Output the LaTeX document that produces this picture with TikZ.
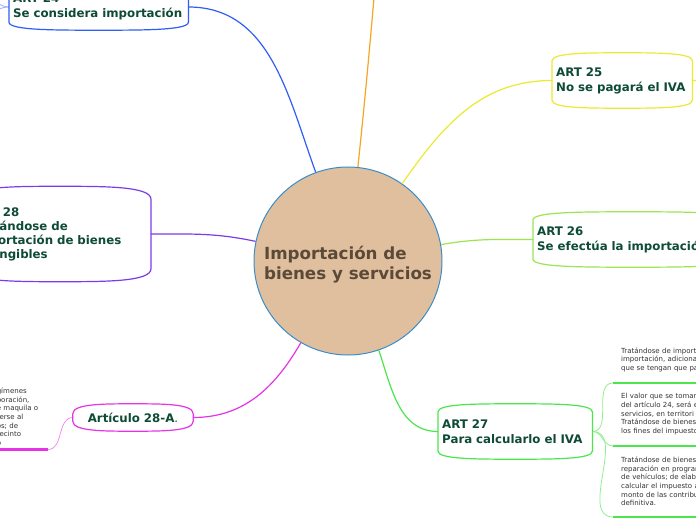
\documentclass[tikz,border=0pt]{standalone}
\usepackage{fontspec}
\setmainfont{DejaVu Sans}
\usetikzlibrary{calc}
\definecolor{cInk}{HTML}{0E4B35}
\definecolor{cCore}{HTML}{E0BF9F}
\definecolor{cCoreLine}{HTML}{3C8DC5}
\definecolor{cCoreInk}{HTML}{5B4A38}
\definecolor{cLeaf}{HTML}{333333}
\definecolor{cBlue}{HTML}{2F5EF5}
\definecolor{cBlueSoft}{HTML}{9DB4FF}
\definecolor{cOrange}{HTML}{F5A623}
\definecolor{cYellow}{HTML}{EAEA32}
\definecolor{cLime}{HTML}{9BE650}
\definecolor{cGreen}{HTML}{4CE64C}
\definecolor{cGreenSoft}{HTML}{90F090}
\definecolor{cPurple}{HTML}{7B3BEA}
\definecolor{cMagenta}{HTML}{E633E6}
\definecolor{cMagentaSoft}{HTML}{F290F2}
% outline of a topic box: straight sides, bowed top and bottom
\newcommand{\bubble}[3]{%
	\draw[#2, line width=1.2pt] ($(#1.south west)+(0,#3)$) -- ($(#1.north west)+(0,-#3)$)
	.. controls (#1.north west) and ($(#1.north west)!.5!(#1.north)$) .. (#1.north)
	.. controls ($(#1.north)!.5!(#1.north east)$) and (#1.north east) .. ($(#1.north east)+(0,-#3)$)
	-- ($(#1.south east)+(0,#3)$)
	.. controls (#1.south east) and ($(#1.south east)!.5!(#1.south)$) .. (#1.south)
	.. controls ($(#1.south)!.5!(#1.south west)$) and (#1.south west) .. cycle;}
\tikzset{
	core/.style={circle, fill=cCore, draw=cCoreLine, line width=1pt, minimum size=188pt, inner sep=0pt,
		align=left, text=cCoreInk, font=\fontsize{16.7}{20}\selectfont\bfseries},
	topic/.style={text=cInk, font=\fontsize{11.8}{15}\selectfont\bfseries, align=left, text width=#1,
		inner xsep=4pt, inner ysep=0pt, minimum height=55pt},
	leaf/.style={text=cLeaf, font=\fontsize{7}{8.6}\selectfont, align=left, text width=#1,
		inner xsep=8pt, inner ysep=11pt},
	link/.style={draw=#1, line width=1.2pt},
	twig/.style={draw=#1, line width=0.8pt},
	uline/.style={draw=#1, line width=2.6pt},
}

\begin{document}
\begin{tikzpicture}[x=1pt,y=1pt]
	\useasboundingbox (0,0) rectangle (696,520);
	\clip (0,0) rectangle (696,520);
	\fill[white] (0,0) rectangle (696,520);
	\node[core] (c) at (348,259) {\rule{0pt}{20pt}Importación de\\bienes y servicios};
	\node[topic=171pt, anchor=west, minimum height=46pt] (a24) at (9,513) {ART 24\\Se considera importación};
	\node[topic=132pt, anchor=west] (a25) at (552,439.5) {ART 25\\No se pagará el IVA};
	\node[topic=192pt, anchor=west] (a26) at (533,280.5) {ART 26\\Se efectúa la importación};
	\node[topic=146pt, anchor=west] (a27) at (438,88.5) {ART 27\\Para calcularlo el IVA};
	\node[topic=173.5pt, anchor=east, minimum height=95pt, font=\fontsize{11.8}{14}\selectfont\bfseries] (a28) at (151,286) {ART 28\\Tratándose de\\importación de bienes\\intangibles};
	\node[topic=112pt, align=center, minimum height=27pt] (a28a) at (133,102.5) {Artículo 28-A{\mdseries.}};
	% hojas del ART 27 y del 28-A
	\node[leaf=130pt, anchor=south west] (k1) at (613,137) {Tratándose de import\\importación, adiciona\\que se tengan que pa};
	\node[leaf=130pt, anchor=south west] (k2) at (613,74) {El valor que se tomar\\del artículo 24, será e\\servicios, en territori\\Tratándose de bienes\\los fines del impuesto};
	\node[leaf=130pt, anchor=south west] (k3) at (613,3) {Tratándose de bienes\\reparación en progran\\de vehículos; de elab\\calcular el impuesto a\\monto de las contribu\\definitiva.};
	\node[leaf=43pt, anchor=south east, inner ysep=4pt] (k4) at (48,70.5) {gímenes\\poración,\\e maquila o\\terse al\\os; de\\recinto\\o};
	\coordinate (o1) at (376,545);
	\coordinate (y1) at (730,441);
	\coordinate (b1) at (-30,540);
	\coordinate (b2) at (-30,498);
	\draw[link=cOrange] (c) to[out=84,in=265] (o1);
	\draw[link=cBlue] (c) to[out=110,in=0] (a24.east);
	\draw[link=cYellow] (c) to[out=55,in=180] (a25.west);
	\draw[link=cLime] (c) to[out=10,in=180] (a26.west);
	\draw[link=cGreen] (c) to[out=-71,in=180] (a27.west);
	\draw[link=cMagenta] (c) to[out=240,in=0] (a28a.east);
	\draw[link=cPurple] (c) to[out=168,in=0] (a28.east);
	\draw[link=cYellow] (a25.east) to[out=0,in=180] (y1);
	\foreach \t in {b1,b2} \draw[twig=cBlueSoft] (a24.west) to[out=180,in=0] (\t);
	\foreach \k in {k1,k2,k3} {
		\draw[twig=cGreenSoft] (a27.east) to[out=0,in=180] (\k.south west);
		\draw[uline=cGreen] (\k.south west) -- (\k.south east);
	}
	\draw[twig=cMagentaSoft] (a28a.west) to[out=180,in=0] (k4.south east);
	\draw[uline=cMagenta] (k4.south west) -- (k4.south east);
	\foreach \n/\c/\k in {a24/cBlue/8, a25/cYellow/8, a26/cLime/8, a27/cGreen/8, a28/cPurple/13, a28a/cMagenta/10}
		\bubble{\n}{\c}{\k};
\end{tikzpicture}
\end{document}
